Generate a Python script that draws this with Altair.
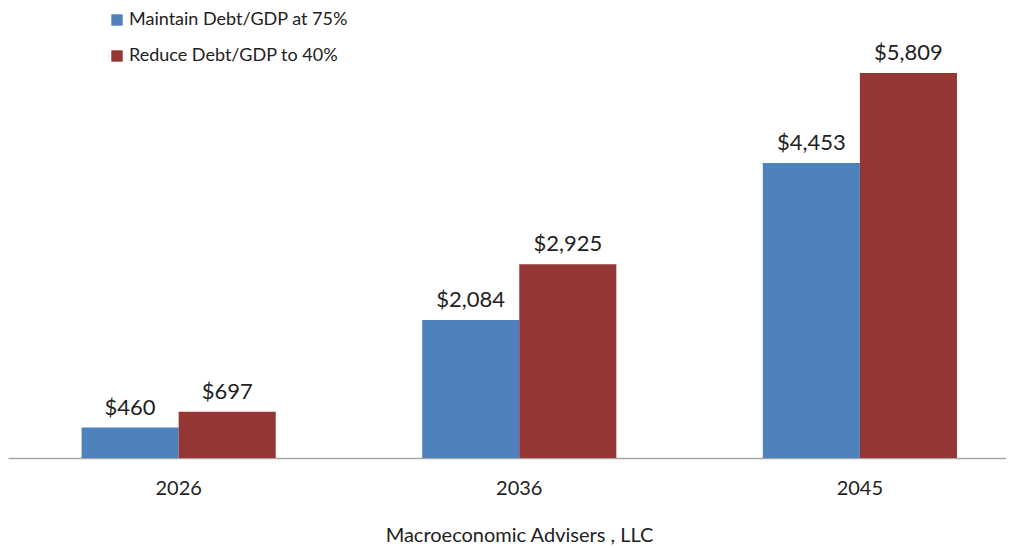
import altair as alt
import pandas as pd

years = ["2026", "2036", "2045"]
series = ["Maintain Debt/GDP at 75%", "Reduce Debt/GDP to 40%"]
maintain = [460, 2084, 4453]
reduce_ = [697, 2925, 5809]
colors = ["#4F81BD", "#943634"]

rows = []
for i, y in enumerate(years):
    rows.append({"year": y, "series": series[0], "value": maintain[i]})
    rows.append({"year": y, "series": series[1], "value": reduce_[i]})
df = pd.DataFrame(rows)

FONT = "Lato"

x_enc = alt.X("year:N", sort=years,
              scale=alt.Scale(paddingInner=0.43, paddingOuter=0.18, align=0.6),
              axis=alt.Axis(title="Macroeconomic Advisers , LLC", labelAngle=0,
                            labelFontSize=20, labelColor="#222", labelPadding=20,
                            ticks=False, domainColor="#A6A6A6", domainWidth=1.5,
                            titleFontSize=20, titleFontWeight="normal", titleColor="#222",
                            titlePadding=27, titleX=511))
y_enc = alt.Y("value:Q", scale=alt.Scale(domain=[0, 6790], nice=False), axis=None)
off = alt.XOffset("series:N", sort=series)

bars = alt.Chart(df).mark_bar().encode(
    x=x_enc, y=y_enc, xOffset=off,
    color=alt.Color("series:N", sort=series,
                    scale=alt.Scale(domain=series, range=colors),
                    legend=alt.Legend(title=None, orient="none", legendX=100, legendY=3,
                                      symbolType="square", symbolSize=130,
                                      symbolStrokeWidth=0, labelLimit=0,
                                      labelFontSize=18, labelColor="#222",
                                      rowPadding=18, labelOffset=3)),
)

labels = alt.Chart(df).mark_text(baseline="bottom", dy=-8, fontSize=22,
                                 color="#222", font=FONT).encode(
    x=alt.X("year:N", sort=years), y=alt.Y("value:Q"), xOffset=off,
    text=alt.Text("value:Q", format="$,.0f"),
)

chart = (bars + labels).properties(width=998, height=450, padding=0).configure(
    font=FONT
).configure_view(stroke=None)

chart.save("out.html", embed_options={"renderer": "svg", "actions": False})
